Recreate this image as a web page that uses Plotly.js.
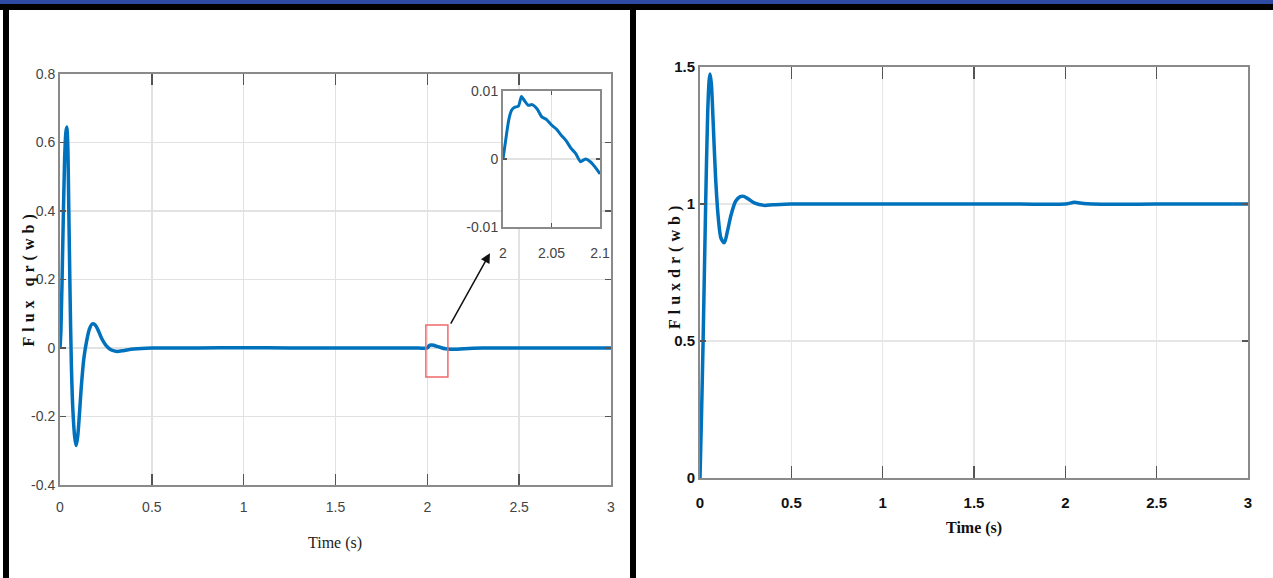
<!DOCTYPE html>
<html>
<head>
<meta charset="utf-8">
<script src="https://cdn.plot.ly/plotly-3.0.1.min.js"></script>
<style>
html,body{margin:0;padding:0;background:#fff;}
#chart{width:1273px;height:578px;}
</style>
</head>
<body>
<div id="chart"></div>
<script>
// ---------- data ----------
const timeQ = [0, 0.005, 0.015, 0.025, 0.032, 0.037, 0.042, 0.048, 0.055, 0.062, 0.07, 0.08, 0.088, 0.096, 0.105, 0.115, 0.13, 0.145, 0.16, 0.175, 0.19, 0.205, 0.225, 0.25, 0.28, 0.31, 0.35, 0.4, 0.5, 0.75, 1.0, 1.25, 1.5, 1.75, 1.95, 2.0, 2.01, 2.02, 2.035, 2.05, 2.065, 2.08, 2.1, 2.15, 2.2, 2.3, 2.5, 2.75, 3.0];
const fluxQ = [0, 0.05, 0.3, 0.55, 0.63, 0.645, 0.6, 0.4, 0.15, -0.05, -0.18, -0.26, -0.285, -0.26, -0.2, -0.12, -0.03, 0.02, 0.055, 0.07, 0.068, 0.055, 0.03, 0.008, -0.006, -0.01, -0.007, -0.003, 0, 0, 0.001, 0, 0, 0, 0, 0, 0.007, 0.009, 0.008, 0.005, 0.003, 0.0, -0.002, -0.004, -0.002, 0, 0, 0, 0];

const zoomTime = [2.0, 2.003, 2.006, 2.009, 2.012, 2.016, 2.019, 2.022, 2.026, 2.03, 2.035, 2.04, 2.045, 2.05, 2.055, 2.06, 2.065, 2.07, 2.075, 2.08, 2.085, 2.09, 2.095, 2.1];
const zoomFlux = [0, 0.003, 0.0058, 0.0072, 0.0076, 0.0078, 0.0092, 0.0086, 0.0079, 0.008, 0.0074, 0.0062, 0.0058, 0.005, 0.0044, 0.0035, 0.0027, 0.0016, 0.0008, -0.0004, 0, -0.0004, -0.0012, -0.0022];

const timeD = [0, 0.008, 0.017, 0.031, 0.042, 0.05, 0.055, 0.062, 0.072, 0.085, 0.1, 0.115, 0.133, 0.15, 0.17, 0.195, 0.22, 0.24, 0.265, 0.3, 0.35, 0.4, 0.5, 0.75, 1.0, 1.25, 1.5, 1.75, 2.0, 2.05, 2.1, 2.2, 2.5, 2.75, 3.0];
const fluxD = [0, 0.22, 0.5, 1.0, 1.33, 1.45, 1.474, 1.44, 1.3, 1.1, 0.95, 0.875, 0.859, 0.9, 0.96, 1.01, 1.027, 1.028, 1.018, 1.003, 0.995, 0.997, 1.0, 1.0, 1.0, 1.0, 1.0, 1.0, 1.0, 1.006, 1.002, 0.999, 1.0, 1.0, 1.0];

const qTickVals = [-0.4, -0.2, 0, 0.2, 0.4, 0.6, 0.8];
const qTickText = ['-0.4', '-0.2', '0', '0.2', '0.4', '0.6', '0.8'];
const timeTickVals = [0, 0.5, 1, 1.5, 2, 2.5, 3];
const timeTickText = ['0', '0.5', '1', '1.5', '2', '2.5', '3'];
const dTickVals = [0, 0.5, 1, 1.5];
const dTickText = ['0', '0.5', '1', '1.5'];
const zoomXTickVals = [2, 2.05, 2.1];
const zoomXTickText = ['2', '2.05', '2.1'];
const zoomYTickVals = [-0.01, 0, 0.01];
const zoomYTickText = ['-0.01', '0', '0.01'];

// ---------- styling ----------
const W = 1273, H = 578;
const px = v => v / W;
const py = v => 1 - v / H;
const narrow = '"Liberation Sans Narrow", "Arial Narrow", "Liberation Sans", Arial, sans-serif';
const serif = '"Liberation Serif", "Times New Roman", "DejaVu Serif", serif';
const blue = '#0072BD';

const leftAxis = {
  showline: true, mirror: 'ticks', linecolor: '#8a8a8a', linewidth: 2,
  ticks: 'inside', tickcolor: '#555', tickwidth: 1.5,
  showgrid: true, gridcolor: '#e2e2e2', gridwidth: 1.5, zeroline: false,
  tickfont: {family: narrow, size: 14, color: '#444'}, fixedrange: true
};
const rightAxis = {
  showline: true, mirror: 'ticks', linecolor: '#8a8a8a', linewidth: 2,
  ticks: 'inside', tickcolor: '#555', tickwidth: 1.5,
  showgrid: true, gridcolor: '#e6e6e6', gridwidth: 1.5, zeroline: false,
  tickfont: {family: narrow, size: 15, color: '#111', weight: 'bold'}, fixedrange: true
};

const traces = [
  {x: timeQ, y: fluxQ, xaxis: 'x', yaxis: 'y', mode: 'lines',
   line: {color: blue, width: 3.5, shape: 'spline', smoothing: 0.8}, hoverinfo: 'skip'},
  {x: timeD, y: fluxD, xaxis: 'x2', yaxis: 'y2', mode: 'lines',
   line: {color: blue, width: 3.5, shape: 'spline', smoothing: 0.8}, hoverinfo: 'skip'},
  {x: zoomTime, y: zoomFlux, xaxis: 'x3', yaxis: 'y3', mode: 'lines',
   line: {color: blue, width: 3, shape: 'spline', smoothing: 0.6}, hoverinfo: 'skip'}
];

const layout = {
  width: W, height: H, autosize: false,
  margin: {l: 0, r: 0, t: 0, b: 0, pad: 0},
  paper_bgcolor: '#fff', plot_bgcolor: '#fff',
  showlegend: false,
  xaxis: Object.assign({}, leftAxis, {domain: [px(60), px(611)], range: [0, 3], anchor: 'y',
    tickvals: timeTickVals, ticktext: timeTickText, ticklen: 11, ticklabelstandoff: 8}),
  yaxis: Object.assign({}, leftAxis, {domain: [py(485), py(74)], range: [-0.4, 0.8], anchor: 'x',
    tickvals: qTickVals, ticktext: qTickText, ticklen: 6}),
  xaxis2: Object.assign({}, rightAxis, {domain: [px(700), px(1248)], range: [0, 3], anchor: 'y2',
    tickvals: timeTickVals, ticktext: timeTickText, ticklen: 12, ticklabelstandoff: 10}),
  yaxis2: Object.assign({}, rightAxis, {domain: [py(478), py(67)], range: [0, 1.5], anchor: 'x2',
    tickvals: dTickVals, ticktext: dTickText, ticklen: 6}),
  xaxis3: Object.assign({}, leftAxis, {domain: [px(503), px(600)], range: [2, 2.1], anchor: 'y3',
    tickvals: zoomXTickVals, ticktext: zoomXTickText, ticklen: 4, ticklabelstandoff: 12}),
  yaxis3: Object.assign({}, leftAxis, {domain: [py(227), py(91)], range: [-0.01, 0.01], anchor: 'x3',
    tickvals: zoomYTickVals, ticktext: zoomYTickText, ticklen: 4}),
  shapes: [
    {type: 'rect', xref: 'paper', yref: 'paper', x0: 0, x1: 1, y0: py(4), y1: 1,
     fillcolor: '#2f4aa2', line: {width: 0}},
    {type: 'rect', xref: 'paper', yref: 'paper', x0: 0, x1: 1, y0: py(10), y1: py(4),
     fillcolor: '#000', line: {width: 0}},
    {type: 'rect', xref: 'paper', yref: 'paper', x0: px(3), x1: px(9), y0: 0, y1: py(4),
     fillcolor: '#000', line: {width: 0}},
    {type: 'rect', xref: 'paper', yref: 'paper', x0: px(630), x1: px(636), y0: 0, y1: py(4),
     fillcolor: '#000', line: {width: 0}},
    {type: 'rect', xref: 'x', yref: 'y', x0: 1.992, x1: 2.112, y0: -0.085, y1: 0.067,
     fillcolor: 'rgba(0,0,0,0)', line: {color: '#f06a6a', width: 1.5}}
  ],
  annotations: [
    {x: 2.341, y: 0.277, xref: 'x', yref: 'y', ax: 2.123, ay: 0.067, axref: 'x', ayref: 'y',
     text: '', showarrow: true, arrowhead: 2, arrowsize: 1.3, arrowwidth: 1.5, arrowcolor: '#111', standoff: 0},
    {x: px(29), y: py(278), xref: 'paper', yref: 'paper', xanchor: 'center', yanchor: 'middle',
     text: 'Flux qr(wb)', textangle: -90,
     showarrow: false, font: {family: serif, size: 16, color: '#111', weight: 'bold'}},
    {x: px(335), y: py(543), xref: 'paper', yref: 'paper', xanchor: 'center', yanchor: 'middle',
     text: 'Time (s)',
     showarrow: false, font: {family: serif, size: 16, color: '#222'}},
    {x: px(675), y: py(265), xref: 'paper', yref: 'paper', xanchor: 'center', yanchor: 'middle',
     text: 'Fluxdr(wb)', textangle: -90,
     showarrow: false, font: {family: serif, size: 16, color: '#111', weight: 'bold'}},
    {x: px(974), y: py(528), xref: 'paper', yref: 'paper', xanchor: 'center', yanchor: 'middle',
     text: 'Time (s)',
     showarrow: false, font: {family: serif, size: 16, color: '#111', weight: 'bold'}}
  ]
};

Plotly.newPlot('chart', traces, layout, {staticPlot: true, displayModeBar: false}).then(() => {
  document.querySelectorAll('.annotation-text').forEach(t => {
    const s = t.textContent;
    if (s.indexOf('wb') >= 0) t.style.letterSpacing = '5px';
  });
});
</script>
</body>
</html>
